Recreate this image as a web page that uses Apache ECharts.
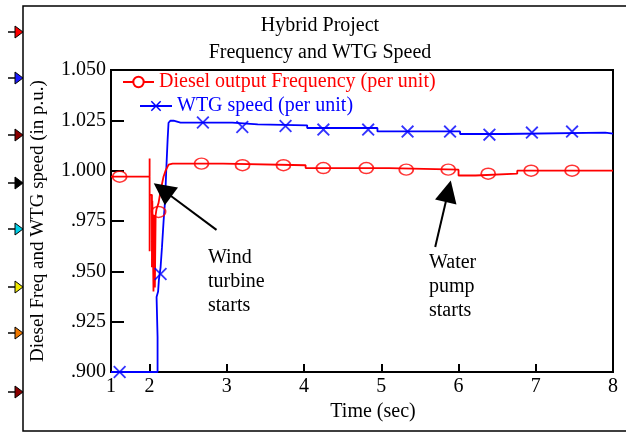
<!DOCTYPE html>
<html><head><meta charset="utf-8">
<script src="https://cdn.jsdelivr.net/npm/echarts@6/dist/echarts.min.js"></script>
<style>html,body{margin:0;padding:0;background:#fff}#c{width:626px;height:432px}</style>
</head><body><div id="c"></div>
<script>
// ---- data (time in sec, values in p.u.) ----
const dieselName = 'Diesel output Frequency (per unit)';
const wtgName = 'WTG speed (per unit)';
const dieselFreq = [[1.5,0.997],[2.0,0.997],[2.0,1.006],[2.0,0.960],[2.004,0.988],[2.03,0.988],[2.03,0.952],[2.035,0.985],[2.05,0.985],[2.05,0.940],[2.058,0.978],[2.068,0.942],[2.078,0.978],[2.09,0.981],[2.116,0.984],[2.142,0.990],[2.18,0.997],[2.207,1.000],[2.246,1.003],[2.297,1.0035],[2.95,1.0035],[2.95,1.0027],[4.02,1.0027],[4.02,1.0013],[5.1,1.0013],[5.1,1.0005],[6.0,1.0005],[6.0,0.9976],[6.22,0.9976],[6.22,0.9985],[6.76,0.9985],[6.76,1.000],[8.0,1.000]];
const dieselMarkers = [[1.612,0.997],[2.116,0.9795],[2.672,1.0035],[3.203,1.0027],[3.733,1.0027],[4.25,1.0013],[4.806,1.0013],[5.323,1.0005],[5.867,1.0005],[6.384,0.9985],[6.94,1.000],[7.47,1.000]];
const wtgSpeed = [[1.5,0.900],[2.103,0.900],[2.103,0.9174],[2.09,0.9178],[2.09,0.9373],[2.11,0.940],[2.12,0.9457],[2.142,0.952],[2.16,0.962],[2.181,0.975],[2.20,0.985],[2.215,1.000],[2.233,1.0153],[2.245,1.0238],[2.27,1.0248],[2.31,1.0248],[2.33,1.0242],[2.40,1.0239],[3.07,1.0239],[3.07,1.0230],[3.40,1.0230],[3.40,1.0225],[4.04,1.0225],[4.04,1.0212],[4.95,1.0212],[4.95,1.0195],[6.02,1.0195],[6.02,1.0182],[6.58,1.0182],[6.58,1.0189],[7.9,1.0189],[7.9,1.0184],[8.0,1.0184]];
const wtgMarkers = [[1.612,0.900],[2.142,0.9487],[2.69,1.0239],[3.20,1.0217],[3.76,1.0222],[4.25,1.0204],[4.83,1.0204],[5.34,1.0194],[5.89,1.0194],[6.40,1.0179],[6.95,1.0189],[7.47,1.0194]];
const xLabelValues = [1.5,2,3,4,5,6,7,8];
const xTickValues = [2,3,4,5,6,7];
// annotation arrows: [tail, head centre] in data coords
const windArrow = [[2.866,0.9706],[2.168,0.9905]];
const pumpArrow = [[5.698,0.9621],[5.867,0.9898]];
const windText = 'Wind\nturbine\nstarts';
const pumpText = 'Water\npump\nstarts';
// decorative side markers (colors)
const sideMarkColors = ['#ff0000','#1a1aff','#8b0000','#000000','#00d0e8','#f0e800','#f07800','#8b0000'];
const sideMarkY = [32,78,135,183,229,287,333,392];

const FONT = 'Liberation Serif, Times New Roman, serif';
const RED = '#ff0000', BLUE = '#0000ff';
const xPath = 'path://M0,1 L1,0 L5,4 L9,0 L10,1 L6,5 L10,9 L9,10 L5,6 L1,10 L0,9 L4,5 Z';
const triPath = 'path://M5,0 L10,10 L0,10 Z';

const graphics = [
  {type:'rect', shape:{x:23,y:6,width:640,height:425}, style:{fill:'none',stroke:'#000',lineWidth:1.5}, z:-1},
  {type:'text', left:208, top:246, style:{text:windText, font:'20px '+FONT, lineHeight:24, fill:'#000'}},
  {type:'text', left:429, top:251, style:{text:pumpText, font:'20px '+FONT, lineHeight:24, fill:'#000'}}
];
sideMarkY.forEach((y,i)=>{
  graphics.push({type:'line', shape:{x1:8,y1:y,x2:16,y2:y}, style:{stroke:'#000',lineWidth:1.5}});
  graphics.push({type:'polygon', shape:{points:[[15,y-6],[23,y],[15,y+6]]}, style:{fill:sideMarkColors[i],stroke:'#000',lineWidth:1}});
});

const chart = echarts.init(document.getElementById('c'), null, {renderer:'canvas'});
chart.setOption({
  animation:false,
  backgroundColor:'#fff',
  title:{text:'Hybrid Project\nFrequency and WTG Speed', left:320, top:12, textAlign:'center', padding:0,
    textStyle:{fontFamily:FONT, fontSize:20, fontWeight:'normal', color:'#000', lineHeight:27}},
  grid:{left:111, right:13, top:70, bottom:60, show:true, borderColor:'#000', borderWidth:2, backgroundColor:'transparent'},
  legend:[
    {data:[dieselName], left:122, top:72, padding:0, itemWidth:31, itemHeight:13, selectedMode:false,
     textStyle:{color:RED, fontFamily:FONT, fontSize:20}},
    {data:[wtgName], left:139, top:96, padding:0, itemWidth:32, itemHeight:13, selectedMode:false,
     textStyle:{color:BLUE, fontFamily:FONT, fontSize:20}}
  ],
  xAxis:{type:'value', min:1.5, max:8, interval:0.5,
    name:'Time (sec)', nameLocation:'middle', nameGap:20,
    nameTextStyle:{fontFamily:FONT, fontSize:20, color:'#000', padding:[0,0,0,22]},
    axisLine:{show:true, lineStyle:{color:'#000', width:2}},
    axisTick:{show:true, inside:true, length:8, customValues:xTickValues, lineStyle:{color:'#000', width:2}},
    axisLabel:{customValues:xLabelValues, margin:5, fontFamily:FONT, fontSize:20, color:'#000',
      formatter:v=> (v===1.5 ? '1' : String(v))},
    splitLine:{show:false}},
  yAxis:{type:'value', min:0.9, max:1.05, interval:0.025,
    name:'Diesel Freq and WTG speed (in p.u.)', nameLocation:'middle', nameGap:63,
    nameTextStyle:{fontFamily:FONT, fontSize:19, color:'#000'},
    axisLine:{show:true, lineStyle:{color:'#000', width:2}},
    axisTick:{show:true, inside:true, length:13, lineStyle:{color:'#000', width:2}},
    axisLabel:{margin:5, fontFamily:FONT, fontSize:20, color:'#000',
      formatter:v=>{const s=v.toFixed(3); return s.startsWith('0')? s.slice(1): s;}},
    splitLine:{show:false}},
  graphic:graphics,
  series:[
    {name:dieselName, type:'line', data:dieselFreq, showSymbol:false, symbol:'emptyCircle', symbolSize:[14,11],
     lineStyle:{color:RED, width:1.8}, itemStyle:{color:RED, borderColor:RED, borderWidth:1.5}, z:3},
    {name:wtgName, type:'line', data:wtgSpeed, showSymbol:false, symbol:xPath, symbolSize:12,
     lineStyle:{color:BLUE, width:1.8}, itemStyle:{color:BLUE}, z:2},
    {name:'dieselMarkers', type:'scatter', data:dieselMarkers, symbol:'circle', symbolSize:[14,11],
     itemStyle:{color:'rgba(0,0,0,0)', borderColor:RED, borderWidth:1.6}, z:4, silent:true},
    {name:'wtgMarkers', type:'scatter', data:wtgMarkers, symbol:xPath, symbolSize:13,
     itemStyle:{color:BLUE}, z:4, silent:true},
    {name:'annotations', type:'line', data:[], z:5, silent:true,
     markLine:{silent:true, animation:false, symbol:['none', triPath], symbolSize:22,
       label:{show:false}, lineStyle:{color:'#000', width:2, type:'solid'}, itemStyle:{color:'#000'},
       emphasis:{disabled:true},
       data:[[{coord:windArrow[0]},{coord:windArrow[1]}],[{coord:pumpArrow[0]},{coord:pumpArrow[1]}]]}}
  ]
});
</script></body></html>
